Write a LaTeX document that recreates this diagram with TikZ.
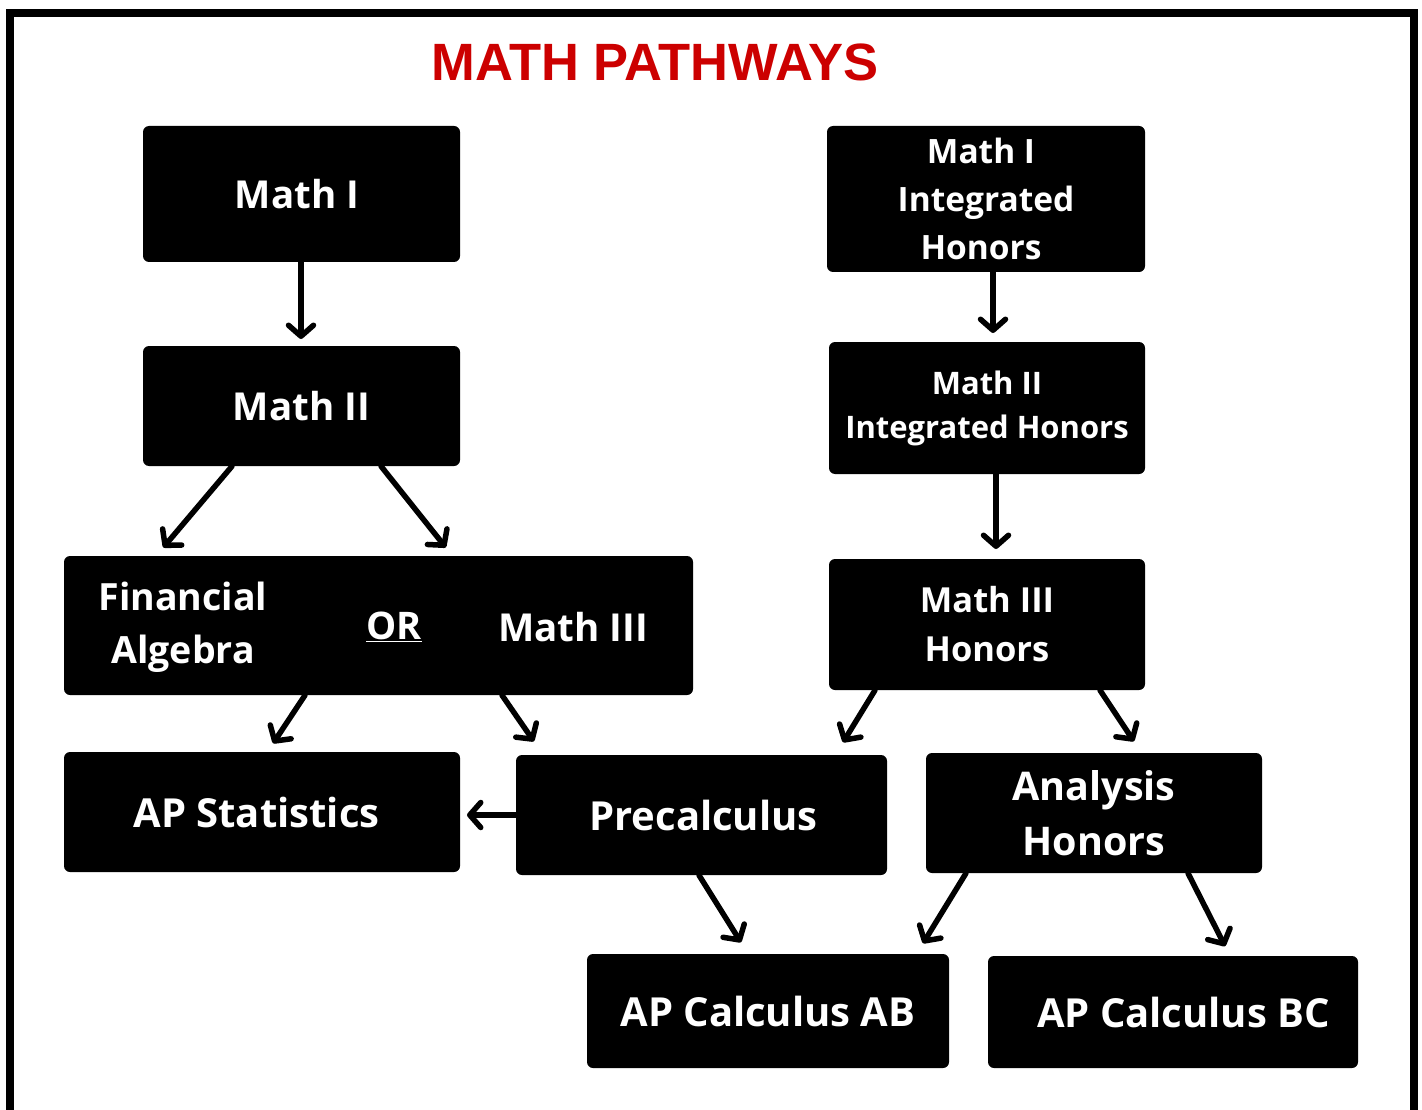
\documentclass[tikz,border=0pt]{standalone}
\usepackage{fontspec}
\setmainfont{Open Sans}
\newfontfamily\titlefont{Liberation Sans}
\usetikzlibrary{arrows.meta}
\definecolor{titlered}{HTML}{CC0000}
\tikzset{
  box/.style={fill=black, rounded corners=6pt, text=white, align=center, inner sep=0pt, font=\bfseries},
  txt/.style={text=white, align=center, inner sep=0pt, font=\bfseries},
  arr/.style={line width=5.5pt, line cap=round, -{Straight Barb[length=11pt,width=25pt,line cap=round,line join=round]}, shorten >=2pt},
}
\newcommand{\fs}[2]{\fontsize{#1}{#2}\selectfont}
\begin{document}
\begin{tikzpicture}[x=1pt,y=-1pt]
\useasboundingbox (0,0) rectangle (1422,1110);
% frame
\fill (6,9) rectangle (1418,17);
\fill (6,9) rectangle (14,1110);
\fill (1410,9) rectangle (1418,1110);
% title
\node[text=titlered, font=\titlefont\bfseries\fs{52.5}{60}, inner sep=0pt] (title) at (655,62) {MATH PATHWAYS};
% left column
\node[box, minimum width=317pt, minimum height=136pt, font=\bfseries\fs{38.5}{47}] (m1) at (301.5,194) {Math I\hspace*{9pt}};
\node[box, minimum width=317pt, minimum height=120pt, font=\bfseries\fs{38.5}{47}] (m2) at (301.5,406) {Math II};
\node[box, minimum width=629pt, minimum height=139pt] (fm) at (378.5,625.5) {};
\node[txt, font=\bfseries\fs{37.5}{53}] (fin) at (183,627) {Financial\\Algebra};
\node[txt, font=\bfseries\fs{38}{52}] (or) at (394,627) {\underline{OR}};
\node[txt, font=\bfseries\fs{38.5}{52}] (m3) at (573,627) {Math III};
\node[box, minimum width=396pt, minimum height=120pt, font=\bfseries\fs{40}{45}] (aps) at (262,812) {AP Statistics\hspace*{11pt}};
\node[box, minimum width=371pt, minimum height=120pt, font=\bfseries\fs{40}{45}] (pre) at (701.5,815) {\hspace*{4pt}Precalculus};
% right column
\node[box, minimum width=318pt, minimum height=146pt, font=\bfseries\fs{33.5}{48}] (ih1) at (986,199) {Math I\hspace*{10pt}\\Integrated\hspace*{10pt}\\Honors\hspace*{10pt}};
\node[box, minimum width=316pt, minimum height=132pt, font=\bfseries\fs{31}{44}] (ih2) at (987,408) {Math II\\Integrated Honors};
\node[box, minimum width=316pt, minimum height=131pt, font=\bfseries\fs{34.5}{49}] (ih3) at (987,624.5) {Math III\\Honors};
\node[box, minimum width=336pt, minimum height=120pt, font=\bfseries\fs{39.5}{55}] (ana) at (1094,813) {Analysis\\Honors};
\node[box, minimum width=362pt, minimum height=114pt, font=\bfseries\fs{40}{45}] (ab) at (768,1011) {AP Calculus AB};
\node[box, minimum width=370pt, minimum height=112pt, font=\bfseries\fs{40}{45}] (bc) at (1173,1012) {\hspace*{21pt}AP Calculus BC};
% arrows
\draw[arr] (301,0 |- m1.south) -- (301,341);
\draw[arr] (232,0 |- m2.south) -- (162,549);
\draw[arr] (381,0 |- m2.south) -- (447,549);
\draw[arr] (305,0 |- fm.south) -- (272,745);
\draw[arr] (502,0 |- fm.south) -- (535,743);
\draw[arr] (pre.west) -- (465,0 |- pre.west);
\draw[arr] (993,0 |- ih1.south) -- (993,335);
\draw[arr] (996,0 |- ih2.south) -- (996,551);
\draw[arr] (875,0 |- ih3.south) -- (842,744);
\draw[arr] (1100,0 |- ih3.south) -- (1135,743);
\draw[arr] (699,0 |- pre.south) -- (742,944);
\draw[arr] (966,0 |- ana.south) -- (922,945);
\draw[arr] (1188,0 |- ana.south) -- (1226,948);
\end{tikzpicture}
\end{document}
